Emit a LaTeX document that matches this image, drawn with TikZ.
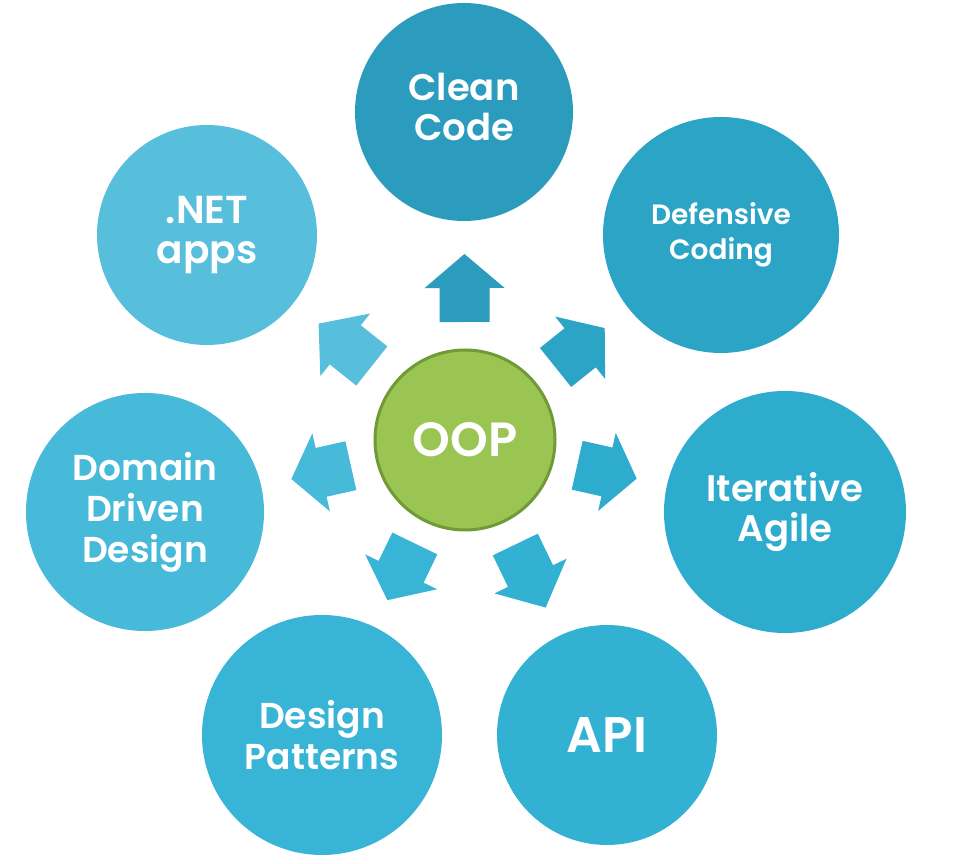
\documentclass[tikz,border=0pt]{standalone}
\usepackage{fontspec}
\setmainfont{Poppins SemiBold}
\usetikzlibrary{calc}
\definecolor{cccol}{HTML}{2B9CBD}
\definecolor{dccol}{HTML}{2CA4C6}
\definecolor{iacol}{HTML}{2EACCE}
\definecolor{apicol}{HTML}{32B1D3}
\definecolor{dpcol}{HTML}{38B4D6}
\definecolor{dddcol}{HTML}{47B9D9}
\definecolor{netcol}{HTML}{57BEDB}
\definecolor{oopfill}{HTML}{9AC553}
\definecolor{oopline}{HTML}{6F9A35}
\tikzset{bubble/.style={circle, inner sep=0pt, text=white, align=center}}
\newcommand\outarrow[4]{%
  \fill[#2] let \p1=($(#1.center)-(oop.center)$), \n1={atan2(\y1,\x1)}, \n2={(#3+#4)/2} in
    [shift={(oop.center)}, rotate=\n1] (#3,-25) -- (\n2,-25) -- (\n2,-40) -- (#4,0) -- (\n2,40) -- (\n2,25) -- (#3,25) -- cycle;}
\begin{document}
\begin{tikzpicture}[x=1pt,y=1pt]
\useasboundingbox (0,0) rectangle (975,864);
\fill[white] (0,0) rectangle (975,864);
\node[bubble, fill=cccol, minimum size=218pt] (cc) at (464,752) {};
\node[text=white, align=center, font=\fontsize{37}{40}\selectfont] (cctext) at ([yshift=5pt]cc.center) {Clean\\Code};
\node[bubble, fill=dccol, minimum size=236pt, font=\fontsize{28}{35}\selectfont] (dc) at (721,629) {Defensive\\Coding};
\node[bubble, fill=iacol, minimum size=242pt, font=\fontsize{37}{40}\selectfont] (ia) at (785,352) {Iterative\\Agile};
\node[bubble, fill=apicol, minimum size=220pt, font=\fontsize{50}{50}\selectfont] (api) at (607,129) {API};
\node[bubble, fill=dpcol, minimum size=240pt, font=\fontsize{36}{41}\selectfont] (dp) at (322,129) {Design\\Patterns};
\node[bubble, fill=dddcol, minimum size=238pt, font=\fontsize{36}{41}\selectfont] (ddd) at (145,352) {Domain\\Driven\\Design};
\node[bubble, fill=netcol, minimum size=220pt, font=\fontsize{39}{40}\selectfont] (net) at (207,629) {.NET\\apps};
\node[bubble, fill=oopfill, draw=oopline, line width=3pt, minimum size=180pt, font=\fontsize{48}{48}\selectfont] (oop) at (465,424) {OOP};
\outarrow{cc}{cccol}{118}{186}
\outarrow{dc}{dccol}{116}{179}
\outarrow{ia}{iacol}{115}{176}
\outarrow{api}{apicol}{116}{186}
\outarrow{dp}{dpcol}{115}{178}
\outarrow{ddd}{dddcol}{117}{178}
\outarrow{net}{netcol}{119}{187}
\end{tikzpicture}
\end{document}
